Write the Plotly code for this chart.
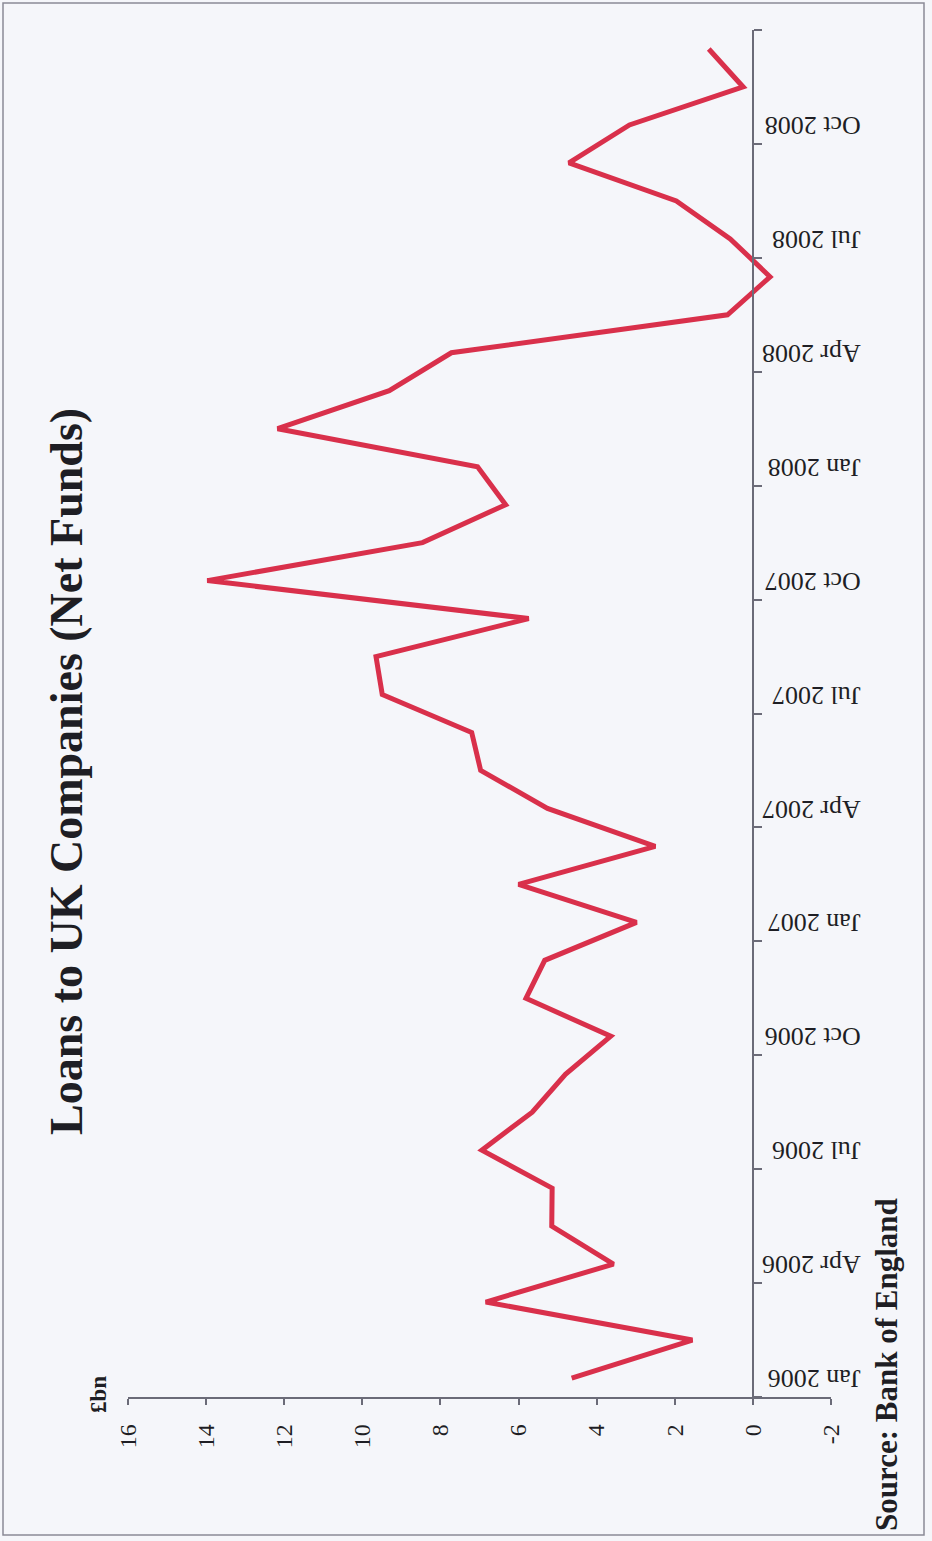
import pandas as pd
import plotly.graph_objects as go

# Monthly net lending to UK companies, £bn (Jan 2006 - Dec 2008)
months = [d.strftime("%b %Y") for d in pd.date_range("2006-01-01", periods=36, freq="MS")]
net_funds = [
    4.64, 1.55, 6.84, 3.57, 5.15, 5.14, 6.94, 5.65, 4.80, 3.64, 5.81, 5.33,
    2.98, 6.00, 2.50, 5.26, 6.97, 7.20, 9.49, 9.65, 5.74, 13.97, 8.46, 6.33,
    7.05, 12.17, 9.31, 7.72, 0.65, -0.44, 0.58, 1.96, 4.71, 3.16, 0.25, 1.13,
]
value_ticks = [16, 14, 12, 10, 8, 6, 4, 2, 0, -2]
value_labels = [str(v) for v in value_ticks]

W, H = 932, 1541
idx = list(range(len(months)))
label_idx = idx[::3]
label_text = [months[i] for i in label_idx]
boundary_idx = [i - 0.5 for i in range(0, len(months) + 1, 3)]

SERIF = "Liberation Serif, Times New Roman, serif"
AXIS = "#6b6b78"
INK = "#1e1e24"

x_lo, x_hi = 128 / W, 831 / W
zero_pos = (128 + (831 - 128) * (16 - 0) / 18) / W
y_dom = [1 - 1397 / H, 1 - 30 / H]

fig = go.Figure()
fig.add_trace(go.Scatter(
    x=net_funds, y=idx, mode="lines",
    line=dict(color="#d9304b", width=5), hoverinfo="x+y", showlegend=False,
))
# boundary tick marks along the month axis
fig.add_trace(go.Scatter(
    x=net_funds, y=idx, mode="lines", yaxis="y2",
    line=dict(width=0), opacity=0, hoverinfo="skip", showlegend=False,
))

fig.update_layout(
    width=W, height=H, autosize=False,
    margin=dict(l=0, r=0, t=0, b=0),
    paper_bgcolor="#f5f6fa", plot_bgcolor="rgba(0,0,0,0)",
    xaxis=dict(
        domain=[x_lo, x_hi], range=[16, -2], automargin=False,
        tickmode="array", tickvals=value_ticks, ticktext=value_labels,
        tickangle=-90, ticks="outside", ticklen=6, tickcolor=AXIS, tickwidth=1.5,
        ticklabelstandoff=10,
        showline=True, linecolor=AXIS, linewidth=1.5, showgrid=False,
        zeroline=False, tickfont=dict(family=SERIF, size=24, color=INK),
    ),
    yaxis=dict(
        domain=y_dom, range=[-0.5, len(months) - 0.5], automargin=False,
        anchor="free", position=zero_pos, side="right",
        tickmode="array", tickvals=label_idx, ticktext=label_text, tickangle=180,
        ticks="", ticklabelstandoff=102, ticklabelshift=9,
        showline=True, linecolor=AXIS, linewidth=1.5,
        showgrid=False, zeroline=False,
        tickfont=dict(family=SERIF, size=26, color=INK),
    ),
    yaxis2=dict(
        domain=y_dom, range=[-0.5, len(months) - 0.5], overlaying="y",
        anchor="free", position=zero_pos, side="right", automargin=False,
        tickmode="array", tickvals=boundary_idx, ticks="outside", ticklen=8,
        tickcolor=AXIS, tickwidth=1.5, showticklabels=False, showline=False,
        showgrid=False, zeroline=False,
    ),
    annotations=[
        dict(text="<b>Loans to UK Companies (Net Funds)</b>", x=66 / W, y=1 - 772 / H,
             xref="paper", yref="paper", xanchor="center", yanchor="middle",
             showarrow=False, textangle=-90,
             font=dict(family=SERIF, size=46, color=INK)),
        dict(text="<b>£bn</b>", x=98 / W, y=1 - 1395 / H,
             xref="paper", yref="paper", xanchor="center", yanchor="middle",
             showarrow=False, textangle=-90,
             font=dict(family=SERIF, size=23, color=INK)),
        dict(text="<b>Source: Bank of England</b>", x=886 / W, y=1 - 1365 / H,
             xref="paper", yref="paper", xanchor="center", yanchor="middle",
             showarrow=False, textangle=-90,
             font=dict(family=SERIF, size=31, color=INK)),
    ],
    shapes=[
        dict(type="rect", xref="paper", yref="paper",
             x0=3 / W, x1=924 / W, y0=1 - 1535 / H, y1=1 - 3 / H,
             line=dict(color="#8a8a96", width=1.5)),
    ],
)

fig.write_html("out.html")
